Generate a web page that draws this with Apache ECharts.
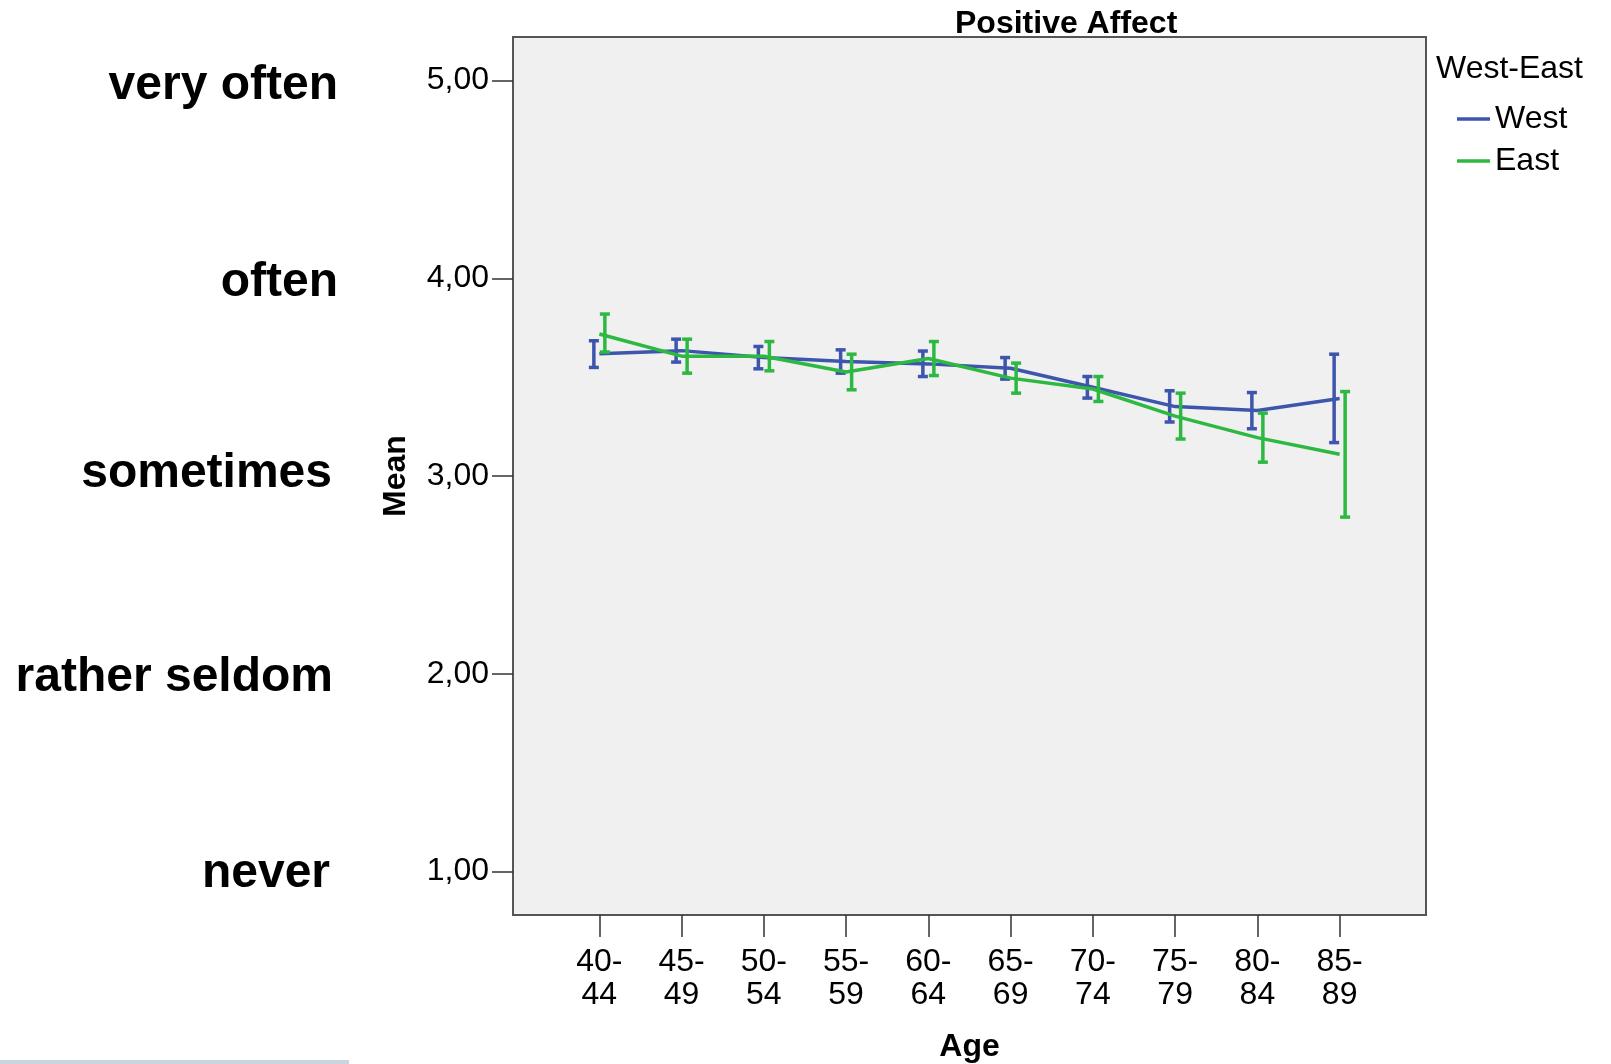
<!DOCTYPE html>
<html>
<head>
<meta charset="utf-8">
<script src="https://cdn.jsdelivr.net/npm/echarts@6/dist/echarts.min.js"></script>
<style>
html,body{margin:0;padding:0;background:#fff;}
#chart{width:1611px;height:1064px;}
</style>
</head>
<body>
<div id="chart"></div>
<script>
// ---- data ----
const categories = ['40-\n44','45-\n49','50-\n54','55-\n59','60-\n64','65-\n69','70-\n74','75-\n79','80-\n84','85-\n89'];
const westMean = [3.618, 3.634, 3.599, 3.579, 3.567, 3.545, 3.449, 3.351, 3.331, 3.392];
const westLow  = [3.549, 3.576, 3.542, 3.520, 3.503, 3.490, 3.394, 3.273, 3.239, 3.169];
const westHigh = [3.684, 3.692, 3.655, 3.638, 3.632, 3.599, 3.503, 3.431, 3.422, 3.616];
const eastMean = [3.718, 3.606, 3.606, 3.526, 3.594, 3.495, 3.440, 3.303, 3.194, 3.110];
const eastLow  = [3.627, 3.520, 3.532, 3.436, 3.508, 3.419, 3.377, 3.187, 3.070, 2.792];
const eastHigh = [3.819, 3.692, 3.680, 3.616, 3.680, 3.571, 3.503, 3.419, 3.318, 3.427];
const yTicks = [1, 2, 3, 4, 5];
const frequencyLabels = ['never', 'rather seldom', 'sometimes', 'often', 'very often'];
const seriesNames = ['West', 'East'];
const legendTitle = 'West-East';
const chartTitle = 'Positive Affect';

// ---- helpers ----
const FONT = '"Liberation Sans", Arial, sans-serif';
const WEST_C = '#3d55ad';
const EAST_C = '#2db842';
const idx = categories.map((_, i) => i);

function meanData(arr) { return arr.map((v, i) => [i, v]); }
function barData(lo, hi) { return lo.map((v, i) => [i, v, hi[i]]); }
function errRender(offset, color) {
  return function (params, api) {
    const x = api.value(0);
    const pLo = api.coord([x, api.value(1)]);
    const pHi = api.coord([x, api.value(2)]);
    const px = pLo[0] + offset;
    const st = { stroke: color, lineWidth: 3.5 };
    return {
      type: 'group',
      children: [
        { type: 'line', shape: { x1: px, y1: pLo[1], x2: px, y2: pHi[1] }, style: st },
        { type: 'line', shape: { x1: px - 5, y1: pLo[1], x2: px + 5, y2: pLo[1] }, style: st },
        { type: 'line', shape: { x1: px - 5, y1: pHi[1], x2: px + 5, y2: pHi[1] }, style: st }
      ]
    };
  };
}
// small per-label nudges [down, leftward] to mimic the hand-placed labels
const labelNudge = { 'very often': [5, 0], 'often': [5, 0], 'sometimes': [-2, 6], 'rather seldom': [4, 5], 'never': [2, 8] };
const rich = {};
frequencyLabels.forEach((t, i) => {
  const n = labelNudge[t];
  rich['f' + i] = {
    fontFamily: FONT, fontWeight: 'bold', fontSize: 48, color: '#000',
    padding: [Math.max(0, 2 * n[0]), n[1], Math.max(0, -2 * n[0]), 0]
  };
});

const chart = echarts.init(document.getElementById('chart'));
chart.setOption({
  animation: false,
  backgroundColor: '#ffffff',
  title: [
    { text: chartTitle, left: 955, top: 8, padding: 0,
      textStyle: { fontFamily: FONT, fontWeight: 'bold', fontSize: 32, color: '#000' } },
    { text: legendTitle, left: 1436, top: 53, padding: 0,
      textStyle: { fontFamily: FONT, fontWeight: 'normal', fontSize: 32, color: '#000' } }
  ],
  legend: {
    data: seriesNames,
    orient: 'vertical',
    left: 1457, top: 103,
    padding: 0,
    icon: 'rect',
    itemWidth: 33, itemHeight: 3.5, itemGap: 10,
    textStyle: { fontFamily: FONT, fontSize: 32, color: '#000', lineHeight: 32 }
  },
  grid: {
    left: 513, top: 37, right: 185, bottom: 149,
    containLabel: false, outerBoundsMode: 'none',
    show: true, backgroundColor: '#f0f0f0', borderColor: '#555', borderWidth: 2
  },
  xAxis: {
    type: 'value', min: -1.05, max: 10.05,
    name: 'Age', nameLocation: 'middle', nameGap: 116,
    nameTextStyle: { fontFamily: FONT, fontWeight: 'bold', fontSize: 32, color: '#000' },
    axisLine: { show: true, onZero: false, lineStyle: { color: '#555', width: 2 } },
    axisTick: { show: true, length: 22, customValues: idx, lineStyle: { color: '#333', width: 1.5 } },
    axisLabel: {
      customValues: idx, margin: 31,
      formatter: v => categories[Math.round(v)] || '',
      fontFamily: FONT, fontSize: 32, lineHeight: 33, color: '#000'
    },
    splitLine: { show: false }
  },
  yAxis: [
    {
      type: 'value', min: 0.78, max: 5.22,
      name: 'Mean', nameLocation: 'middle', nameGap: 101, nameRotate: 90,
      nameTextStyle: { fontFamily: FONT, fontWeight: 'bold', fontSize: 32, color: '#000' },
      axisLine: { show: true, onZero: false, lineStyle: { color: '#555', width: 2 } },
      axisTick: { show: true, length: 21, customValues: yTicks, lineStyle: { color: '#333', width: 1.5 } },
      axisLabel: {
        customValues: yTicks, margin: 24,
        formatter: v => v.toFixed(2).replace('.', ','),
        fontFamily: FONT, fontSize: 32, color: '#000', padding: [12, 0, 0, 0]
      },
      splitLine: { show: false }
    },
    {
      type: 'value', min: 0.78, max: 5.22, position: 'left', offset: 175,
      axisLine: { show: false, onZero: false }, axisTick: { show: false }, splitLine: { show: false },
      axisLabel: {
        customValues: yTicks, margin: 0,
        formatter: v => { const i = yTicks.indexOf(Math.round(v)); return i < 0 ? '' : '{f' + i + '|' + frequencyLabels[i] + '}'; },
        rich: rich
      }
    }
  ],
  series: [
    { name: 'West', type: 'line', data: meanData(westMean), symbol: 'none', showSymbol: false,
      lineStyle: { color: WEST_C, width: 3.5 }, itemStyle: { color: WEST_C }, z: 2 },
    { name: 'West error', type: 'custom', data: barData(westLow, westHigh), renderItem: errRender(-5.5, WEST_C), z: 3 },
    { name: 'East', type: 'line', data: meanData(eastMean), symbol: 'none', showSymbol: false,
      lineStyle: { color: EAST_C, width: 3.5 }, itemStyle: { color: EAST_C }, z: 4 },
    { name: 'East error', type: 'custom', data: barData(eastLow, eastHigh), renderItem: errRender(5.5, EAST_C), z: 5 }
  ],
  graphic: [
    { type: 'rect', left: 0, top: 1060, shape: { width: 349, height: 4 }, style: { fill: '#c9d5e0' }, silent: true }
  ]
});
</script>
</body>
</html>
